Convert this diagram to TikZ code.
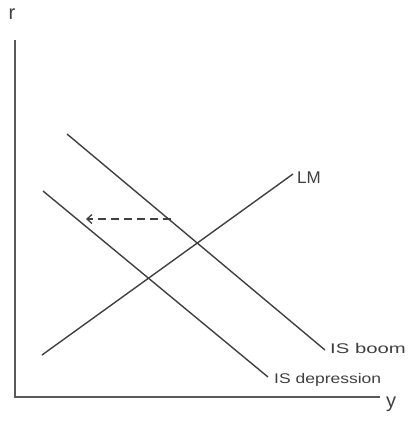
\documentclass[tikz,border=0pt]{standalone}
\usepackage{fontspec}
\usepackage{graphicx}
\setmainfont{Liberation Sans}
\usetikzlibrary{arrows.meta}
\begin{document}
\begin{tikzpicture}[x=1pt,y=-1pt,
  curve/.style={draw=black!75,line width=1.4pt},
  axis/.style={draw=black!65,line width=2pt},
  lbl/.style={text=black!75,font=\fontsize{14}{14}\selectfont,inner sep=1pt},
  shiftarrow/.style={draw=black!75,line width=1.3pt,dashed,dash pattern=on 8pt off 5pt,-{Straight Barb[length=5pt,width=9pt]}}]
\useasboundingbox (0,0) rectangle (412,423);
% axes
\coordinate (top) at (15,40);
\coordinate (origin) at (15,397);
\coordinate (right) at (380,397);
\draw[axis] (top) -- (origin) -- (right);
\node[lbl,font=\fontsize{20}{20}\selectfont] (rlab) at (12,14) {r};
\node[lbl,font=\fontsize{20}{20}\selectfont] (ylab) at (391,404) {y};
% IS boom
\coordinate (b1) at (67,134);
\coordinate (b2) at (325,350);
\draw[curve] (b1) -- (b2);
\node[lbl,anchor=west] (boomlab) at (329,348) {\scalebox{1.45}[1]{IS boom}};
% IS depression
\coordinate (d1) at (43,191);
\coordinate (d2) at (268,377);
\draw[curve] (d1) -- (d2);
\node[lbl,anchor=west] (deplab) at (273,380) {\scalebox{1.25}[1]{IS depression}};
% LM
\coordinate (l1) at (42,355);
\coordinate (l2) at (293,174);
\draw[curve] (l1) -- (l2);
\node[lbl,anchor=west,font=\fontsize{17}{17}\selectfont] (lmlab) at (296,178) {LM};
% dashed shift arrow
\coordinate (as) at (171,219);
\coordinate (ae) at (86,219);
\draw[shiftarrow] (as) -- (ae);
\end{tikzpicture}
\end{document}
